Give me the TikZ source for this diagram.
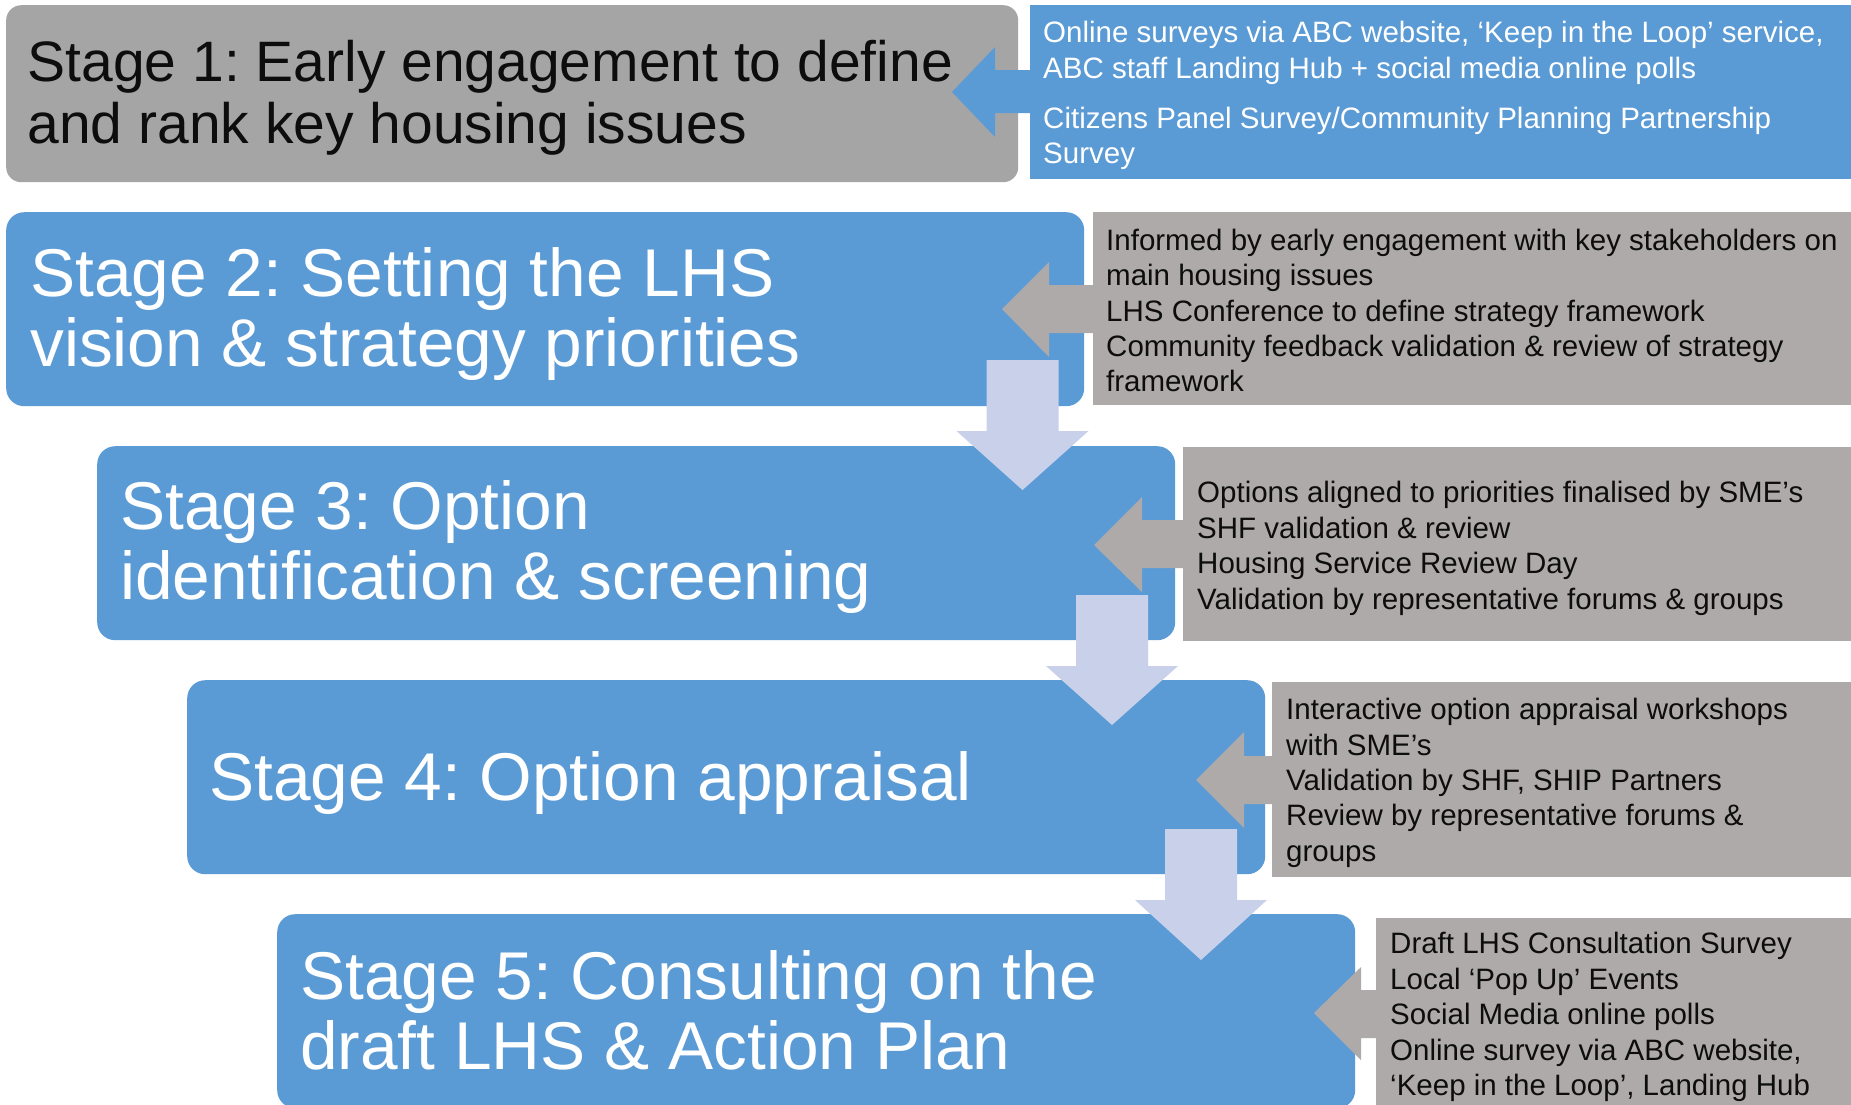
\documentclass[tikz,border=0pt]{standalone}
\usepackage{fontspec}
\setmainfont{Liberation Sans}
\definecolor{stblue}{HTML}{5B9BD5}
\definecolor{stgray}{HTML}{A5A5A5}
\definecolor{boxgray}{HTML}{AEAAAA}
\definecolor{downcol}{HTML}{C8D0EA}
\definecolor{inkblack}{HTML}{0D0D0D}
\begin{document}
\frenchspacing
\begin{tikzpicture}[x=1pt,y=-1pt,
  stagebox/.style={rounded corners=18pt, inner sep=0pt, anchor=north west,
    minimum width=1078pt, minimum height=194pt, fill=stblue},
  sidebox/.style={inner sep=0pt, anchor=north west, fill=boxgray},
  bigtext/.style={inner sep=0pt, anchor=west, align=left,
    font=\fontsize{67.6}{70}\selectfont, text=white},
  smalltext/.style={inner sep=0pt, anchor=west, align=left,
    font=\fontsize{29.5}{35.4}\selectfont, text=inkblack},
  downarrow/.style={fill=downcol}]
\useasboundingbox (0,0) rectangle (1851,1104);
\fill[white] (0,0) rectangle (1851,1104);

% stage boxes
\node[stagebox, fill=stgray, rounded corners=15pt, minimum width=1012pt, minimum height=177pt] (s1) at (6,5) {};
\node[stagebox] (s2) at (6,212) {};
\node[stagebox] (s3) at (97,446) {};
\node[stagebox] (s4) at (187,680) {};
\node[stagebox] (s5) at (277,914) {};

% side boxes
\node[sidebox, fill=stblue, minimum width=825pt, minimum height=174pt] (r1) at (1030,5) {};
\node[sidebox, minimum width=760pt, minimum height=193pt] (g2) at (1093,212) {};
\node[sidebox, minimum width=670pt, minimum height=194pt] (g3) at (1183,447) {};
\node[sidebox, minimum width=581pt, minimum height=195pt] (g4) at (1272,682) {};
\node[sidebox, minimum width=477pt, minimum height=194pt] (g5) at (1376,918) {};

% left-pointing block arrows
\fill[stblue] (952,92) -- (995,47) -- (995,70) -- (1032,70) -- (1032,113) -- (995,113) -- (995,137) -- cycle;
\fill[boxgray] (1002,309) -- (1049,262) -- (1049,285) -- (1095,285) -- (1095,333) -- (1049,333) -- (1049,357) -- cycle;
\fill[boxgray] (1094,545) -- (1142,497) -- (1142,520) -- (1185,520) -- (1185,568) -- (1142,568) -- (1142,592) -- cycle;
\fill[boxgray] (1196,780) -- (1244,732) -- (1244,756) -- (1274,756) -- (1274,804) -- (1244,804) -- (1244,828) -- cycle;
\fill[boxgray] (1314,1013) -- (1361,967) -- (1361,990) -- (1378,990) -- (1378,1038) -- (1361,1038) -- (1361,1060) -- cycle;

% stage texts
\node[bigtext, text=inkblack, font=\fontsize{57}{62}\selectfont] (t1) at (27.4,99.6)
  {\strut Stage 1: Early engagement to define\\ and rank key housing issues\strut};
\node[bigtext] (t2) at (30,317)
  {\strut Stage 2: Setting the LHS\\ vision \& strategy priorities\strut};
\node[bigtext] (t3) at (120,550.5)
  {\strut Stage 3: Option\\ identification \& screening\strut};
\node[bigtext] (t4) at (209,786)
  {\strut Stage 4: Option appraisal\strut};
\node[bigtext] (t5) at (300,1020.5)
  {\strut Stage 5: Consulting on the\\ draft LHS \& Action Plan\strut};

% side texts
\node[smalltext, text=white] (u1) at (1043,96)
  {\strut Online surveys via ABC website, ‘Keep in the Loop’ service,\\
   ABC staff Landing Hub + social media online polls\\[14.6pt]
   Citizens Panel Survey/Community Planning Partnership\\
   Survey\strut};
\node[smalltext] (u2) at (1106,314)
  {\strut Informed by early engagement with key stakeholders on\\
   main housing issues\\
   LHS Conference to define strategy framework\\
   Community feedback validation \& review of strategy\\
   framework\strut};
\node[smalltext] (u3) at (1197,549)
  {\strut Options aligned to priorities finalised by SME’s\\
   SHF validation \& review\\
   Housing Service Review Day\\
   Validation by representative forums \& groups\strut};
\node[smalltext] (u4) at (1286,783.5)
  {\strut Interactive option appraisal workshops\\
   with SME’s\\
   Validation by SHF, SHIP Partners\\
   Review by representative forums \&\\
   groups\strut};
\node[smalltext] (u5) at (1390,1017.5)
  {\strut Draft LHS Consultation Survey\\
   Local ‘Pop Up’ Events\\
   Social Media online polls\\
   Online survey via ABC website,\\
   ‘Keep in the Loop’, Landing Hub\strut};

% downward block arrows
\fill[downarrow] (986.5,360) -- (1058.5,360) -- (1058.5,431) -- (1088.5,431) -- (1022.5,490) -- (956.5,431) -- (986.5,431) -- cycle;
\fill[downarrow] (1076,595) -- (1148,595) -- (1148,666) -- (1178,666) -- (1112,725) -- (1046,666) -- (1076,666) -- cycle;
\fill[downarrow] (1165,829) -- (1237,829) -- (1237,900) -- (1267,900) -- (1201,960) -- (1135,900) -- (1165,900) -- cycle;
\end{tikzpicture}
\end{document}
